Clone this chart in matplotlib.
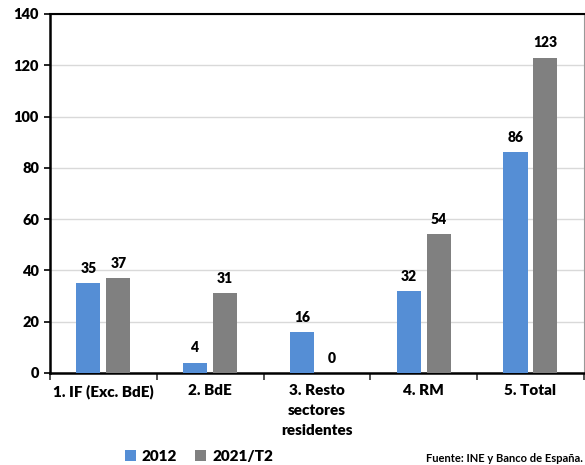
import numpy as np
import matplotlib.pyplot as plt
from matplotlib.patches import Patch

plt.rcParams['font.family'] = ['Lato', 'DejaVu Sans']
plt.rcParams['font.weight'] = 'bold'

# datos
categorias = ['1. IF (Exc. BdE)', '2. BdE', '3. Resto\nsectores\nresidentes', '4. RM', '5. Total']
valores_2012 = [35, 4, 16, 32, 86]
valores_2021 = [37, 31, 0, 54, 123]
series = ['2012', '2021/T2']
colores = ['#558ED5', '#808080']

fig = plt.figure(figsize=(5.85, 4.65), dpi=100)
fig.set_facecolor('white')
ax = fig.add_axes([0.0855, 0.198, 0.9125, 0.772])

x = np.arange(len(categorias))
ancho = 0.225
desp = 0.14

b1 = ax.bar(x - desp, valores_2012, ancho, color=colores[0], zorder=3)
b2 = ax.bar(x + desp, valores_2021, ancho, color=colores[1], zorder=3)

for barras, vals in [(b1, valores_2012), (b2, valores_2021)]:
    for rect, v in zip(barras, vals):
        ax.annotate(f'{v}', (rect.get_x() + rect.get_width() / 2, v),
                    xytext=(0, 6), textcoords='offset points',
                    ha='center', va='bottom', fontsize=10, fontweight='heavy')

ax.set_xlim(-0.5, len(categorias) - 0.5)
ax.set_ylim(0, 140)
ax.set_yticks(np.arange(0, 141, 20))
ax.yaxis.grid(True, color='#d9d9d9', linewidth=1.0, zorder=0)
ax.set_axisbelow(True)

ax.set_xticks(x)
ax.set_xticklabels(categorias, fontsize=11, fontweight='heavy', linespacing=1.65)
ax.set_xticks(np.arange(-0.5, len(categorias)), minor=True)
ax.tick_params(axis='x', which='major', length=0, pad=8)
ax.tick_params(axis='x', which='minor', length=5, width=1.2, color='#333333')
ax.tick_params(axis='y', which='major', labelsize=10.5, length=4, width=1.2, pad=4)
for lbl in ax.get_yticklabels():
    lbl.set_fontweight('heavy')

ax.spines['left'].set_linewidth(1.8)
ax.spines['bottom'].set_linewidth(1.8)
ax.spines['top'].set_linewidth(1.5)
ax.spines['right'].set_linewidth(0.8)
ax.spines['right'].set_color('#999999')

# leyenda abajo a la izquierda
handles = [Patch(facecolor=c, edgecolor='none') for c in colores]
fig.legend(handles, series, loc='center left', bbox_to_anchor=(0.19, 0.018),
           ncol=2, frameon=False, prop={'weight': 'heavy', 'size': 11},
           handlelength=0.7, handleheight=0.7, handletextpad=0.4, columnspacing=1.2)

fig.text(0.997, 0.013, 'Fuente: INE y Banco de España.', ha='right', va='center',
         fontsize=8, fontweight='bold')

fig.savefig('out.png', dpi=100, facecolor='white')
